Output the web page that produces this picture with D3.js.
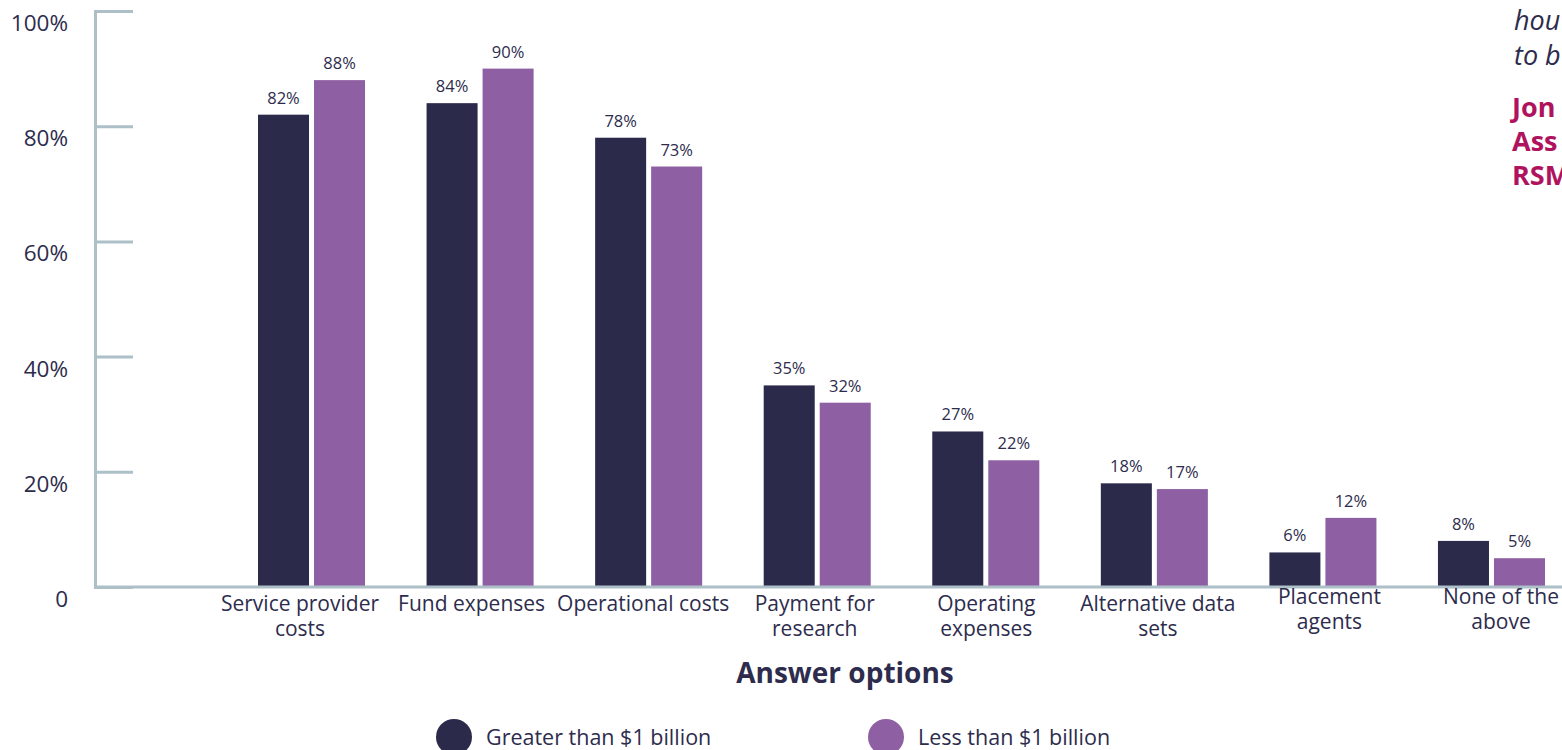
<!DOCTYPE html>
<html>
<head>
<meta charset="utf-8">
<script src="https://cdn.jsdelivr.net/npm/d3@7"></script>
<style>
  html, body { margin: 0; padding: 0; background: #ffffff; overflow: hidden; }
  svg { display: block; font-family: "Open Sans", "Noto Sans", sans-serif; }
</style>
</head>
<body>
<svg id="chart" width="1562" height="750"></svg>
<script>
// Answer options (two-line labels split with "\n")
const categories = [
  "Service provider\ncosts",
  "Fund expenses",
  "Operational costs",
  "Payment for\nresearch",
  "Operating\nexpenses",
  "Alternative data\nsets",
  "Placement\nagents",
  "None of the\nabove"
];
const seriesNames = ["Greater than $1 billion", "Less than $1 billion"];
const greaterThan1B = [82, 84, 78, 35, 27, 18, 6, 8];
const lessThan1B   = [88, 90, 73, 32, 22, 17, 12, 5];
const yTicks = [0, 20, 40, 60, 80, 100];
const yTickLabels = ["0", "20%", "40%", "60%", "80%", "100%"];
const xAxisTitle = "Answer options";
const sideQuoteLines = ["hou", "to b"];
const sideNameLines = ["Jon", "Ass", "RSM"];

const colors = { greater: "#2b2a4b", less: "#8e5fa3", axis: "#adc0c8", text: "#2d2c4d", accent: "#b0135e" };

const svg = d3.select("#chart");

// scales
const y = d3.scaleLinear().domain([0, 100]).range([587, 11]);
const x = d3.scaleBand().domain(categories).range([258, 1545]).paddingInner(0.365).paddingOuter(0);
const xInner = d3.scaleBand().domain(seriesNames).range([0, x.bandwidth()]).paddingInner(0.0893);
const xLabel = d3.scalePoint().domain(categories).range([300, 1501]);
const color = d3.scaleOrdinal().domain(seriesNames).range([colors.greater, colors.less]);

const rows = categories.map((c, i) => ({ cat: c, values: [
  { series: seriesNames[0], v: greaterThan1B[i] },
  { series: seriesNames[1], v: lessThan1B[i] }
]}));

// bars
const groups = svg.append("g").selectAll("g").data(rows).join("g")
  .attr("transform", d => `translate(${x(d.cat)},0)`);
groups.selectAll("rect").data(d => d.values).join("rect")
  .attr("x", d => xInner(d.series))
  .attr("width", xInner.bandwidth())
  .attr("y", d => y(d.v))
  .attr("height", d => y(0) - y(d.v))
  .attr("fill", d => color(d.series));

// value labels
groups.selectAll("text").data(d => d.values).join("text")
  .attr("x", d => xInner(d.series) + xInner.bandwidth() / 2)
  .attr("y", d => y(d.v) - 11)
  .attr("text-anchor", "middle")
  .attr("font-size", 16.5)
  .attr("fill", colors.text)
  .text(d => d.v + "%");

// y axis: vertical line with inward ticks
const yAxis = d3.axisRight(y).tickValues(yTicks).tickSize(38).tickFormat("");
const yg = svg.append("g").attr("transform", "translate(95,0)").call(yAxis);
yg.select(".domain").attr("stroke", colors.axis).attr("stroke-width", 3);
yg.selectAll(".tick line").attr("stroke", colors.axis).attr("stroke-width", 3);

// x axis baseline
svg.append("line")
  .attr("x1", 94).attr("x2", 1562)
  .attr("y1", y(0)).attr("y2", y(0))
  .attr("stroke", colors.axis).attr("stroke-width", 3);

// y tick labels
svg.append("g").selectAll("text").data(yTicks).join("text")
  .attr("x", 68)
  .attr("y", d => y(d) + 20)
  .attr("text-anchor", "end")
  .attr("font-size", 22.5)
  .attr("fill", colors.text)
  .text((d, i) => yTickLabels[i]);

// category labels (the two rightmost sit slightly higher)
const raised = new Set(categories.slice(-2));
const catLabels = svg.append("g").selectAll("text").data(categories).join("text")
  .attr("x", d => xLabel(d))
  .attr("y", d => raised.has(d) ? 604 : 611)
  .attr("text-anchor", "middle")
  .attr("font-size", 21)
  .attr("fill", colors.text);
catLabels.selectAll("tspan").data(d => d.split("\n").map(t => ({ t, x: xLabel(d) }))).join("tspan")
  .attr("x", d => d.x)
  .attr("dy", (d, i) => i === 0 ? 0 : 25)
  .text(d => d.t);

// axis title
svg.append("text")
  .attr("x", 845).attr("y", 683)
  .attr("text-anchor", "middle")
  .attr("font-size", 28).attr("font-weight", 700)
  .attr("fill", colors.text)
  .text(xAxisTitle);

// legend
const legendX = [454, 886];
const legend = svg.append("g").selectAll("g").data(seriesNames).join("g")
  .attr("transform", (d, i) => `translate(${legendX[i]},737)`);
legend.append("circle").attr("r", 18).attr("fill", d => color(d));
legend.append("text")
  .attr("x", 32).attr("y", 8)
  .attr("font-size", 21.5)
  .attr("fill", colors.text)
  .text(d => d);

// side quote running off the right edge
svg.append("g").selectAll("text").data(sideQuoteLines).join("text")
  .attr("x", 1514).attr("y", (d, i) => 30 + i * 35)
  .attr("font-size", 27).attr("font-style", "italic")
  .attr("fill", colors.text)
  .text(d => d);
svg.append("g").selectAll("text").data(sideNameLines).join("text")
  .attr("x", 1512).attr("y", (d, i) => 117 + i * 34)
  .attr("font-size", 27).attr("font-weight", 700)
  .attr("fill", colors.accent)
  .text(d => d);
</script>
</body>
</html>
